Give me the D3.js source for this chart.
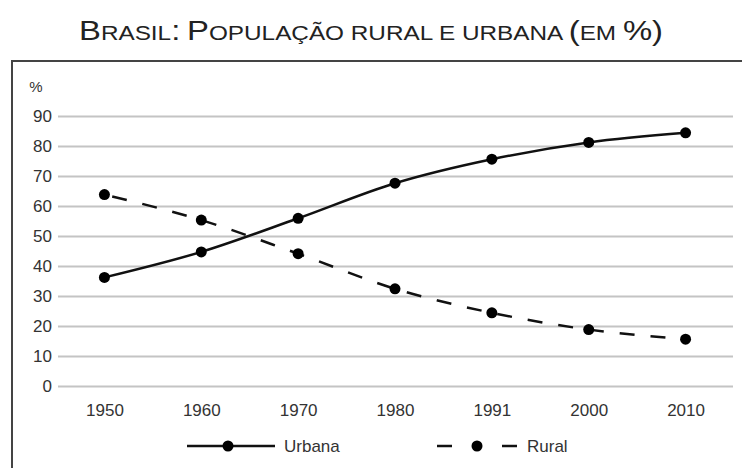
<!DOCTYPE html>
<html>
<head>
<meta charset="utf-8">
<script src="https://cdn.jsdelivr.net/npm/d3@7"></script>
<style>
  body { margin: 0; background: #fff; }
  text { font-family: "Liberation Sans", Arial, sans-serif; fill: #333; }
</style>
</head>
<body>
<svg id="chart" width="742" height="468"></svg>
<script>
// data
var years = ["1950", "1960", "1970", "1980", "1991", "2000", "2010"];
var urbana = [36.2, 44.7, 55.9, 67.6, 75.6, 81.2, 84.4];
var rural = [63.8, 55.3, 44.1, 32.4, 24.4, 18.8, 15.6];
var yTicks = [0, 10, 20, 30, 40, 50, 60, 70, 80, 90];

var svg = d3.select("#chart");

// frame (only left and top edges visible)
svg.append("path")
  .attr("d", "M12,470 L12,61 L745,61")
  .attr("fill", "none")
  .attr("stroke", "#444")
  .attr("stroke-width", 2);

// title in small caps
var title = svg.append("text")
  .attr("x", 371).attr("y", 40)
  .attr("text-anchor", "middle")
  .attr("textLength", 584)
  .attr("lengthAdjust", "spacingAndGlyphs")
  .style("fill", "#222");
var words = "Brasil: População rural e urbana (em %)";
var parts = [];
for (var i = 0; i < words.length; i++) {
  var ch = words[i];
  var big = ch !== ch.toLowerCase() || /[^a-zà-ú]/i.test(ch) && ch !== " ";
  var last = parts[parts.length - 1];
  if (last && last.big === big) last.t += ch; else parts.push({ t: ch, big: big });
}
parts.forEach(function(p) {
  title.append("tspan")
    .attr("font-size", p.big ? 27 : 20)
    .text(p.t.toUpperCase());
});

// scales
var x = d3.scalePoint().domain(years).range([56, 734]).padding(0.5);
var y = d3.scaleLinear().domain([0, 90]).range([386, 116]);

// y grid + labels
var yAxis = svg.append("g")
  .attr("transform", "translate(58,0)")
  .call(d3.axisLeft(y).tickValues(yTicks).tickSize(-(733 - 58)).tickPadding(6));
yAxis.select(".domain").remove();
yAxis.selectAll(".tick line").attr("stroke", "#c4c4c4").attr("stroke-width", 2);
yAxis.selectAll(".tick text")
  .attr("font-size", 17).attr("font-family", null).attr("fill", null);

svg.append("text")
  .attr("x", 36).attr("y", 92)
  .attr("font-size", 15)
  .attr("text-anchor", "middle")
  .text("%");

// x labels
var xAxis = svg.append("g")
  .attr("transform", "translate(0,386)")
  .call(d3.axisBottom(x).tickSize(0).tickPadding(18));
xAxis.select(".domain").remove();
xAxis.selectAll(".tick text")
  .attr("font-size", 17).attr("font-family", null).attr("fill", null);

// lines
var line = d3.line()
  .x(function(d, i) { return x(years[i]); })
  .y(function(d) { return y(d); })
  .curve(d3.curveMonotoneX);

svg.append("path")
  .datum(urbana)
  .attr("d", line)
  .attr("fill", "none")
  .attr("stroke", "#111")
  .attr("stroke-width", 2.5);

svg.append("path")
  .datum(rural)
  .attr("d", line)
  .attr("fill", "none")
  .attr("stroke", "#111")
  .attr("stroke-width", 2.5)
  .attr("stroke-dasharray", "15,16")
  .attr("stroke-dashoffset", -8);

[urbana, rural].forEach(function(s) {
  svg.append("g").selectAll("circle")
    .data(s)
    .join("circle")
    .attr("cx", function(d, i) { return x(years[i]); })
    .attr("cy", function(d) { return y(d); })
    .attr("r", 5.5)
    .attr("fill", "#000");
});

// legend
var lg = svg.append("g").attr("transform", "translate(0,446)");
lg.append("line").attr("x1", 187).attr("x2", 275).attr("y1", 0).attr("y2", 0)
  .attr("stroke", "#111").attr("stroke-width", 2.5);
lg.append("circle").attr("cx", 228).attr("cy", 0).attr("r", 5.5).attr("fill", "#000");
lg.append("text").attr("x", 284).attr("y", 6).attr("font-size", 17).text("Urbana");

lg.append("line").attr("x1", 437).attr("x2", 452).attr("y1", 0).attr("y2", 0)
  .attr("stroke", "#111").attr("stroke-width", 2.5);
lg.append("line").attr("x1", 502).attr("x2", 517).attr("y1", 0).attr("y2", 0)
  .attr("stroke", "#111").attr("stroke-width", 2.5);
lg.append("circle").attr("cx", 477).attr("cy", 0).attr("r", 5.5).attr("fill", "#000");
lg.append("text").attr("x", 527).attr("y", 6).attr("font-size", 17).text("Rural");
</script>
</body>
</html>
